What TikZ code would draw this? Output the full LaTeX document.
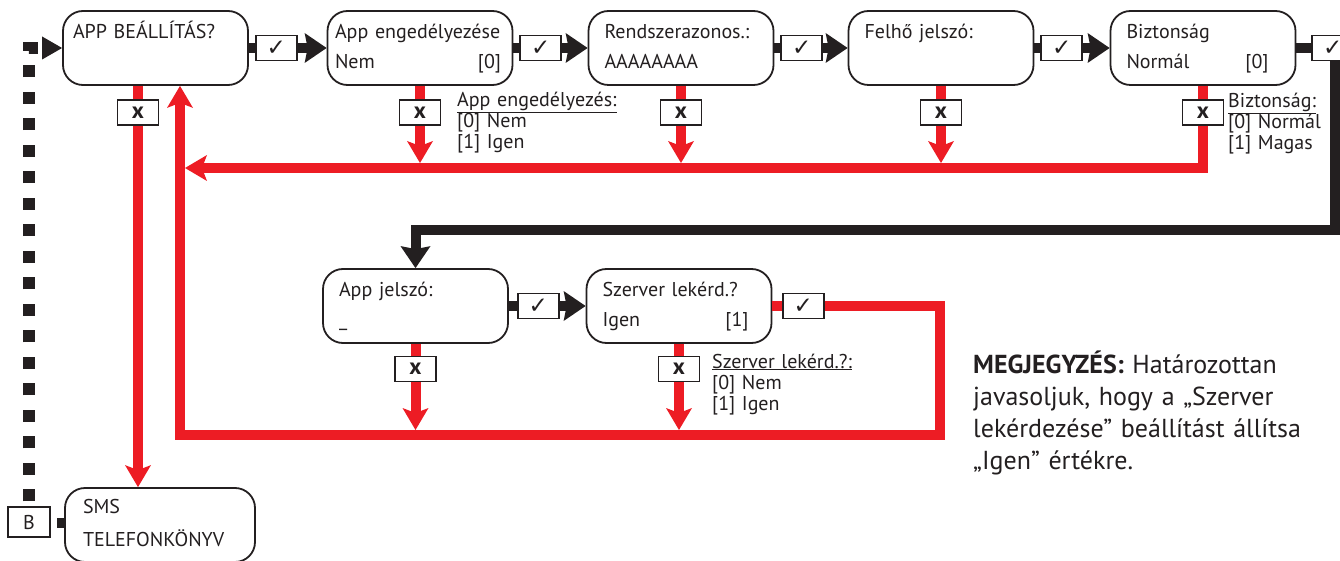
\documentclass[tikz,border=0pt]{standalone}
\usepackage{fontspec}
\setmainfont{PT Sans}
\newfontfamily\symfont{DejaVu Sans}
\usetikzlibrary{arrows.meta}

\definecolor{ink}{HTML}{231F20}
\definecolor{alarm}{HTML}{ED1C24}

\newcommand\ck{{\symfont\fontsize{23}{23}\selectfont ✓}}
\newcommand\cx{{\bfseries\fontsize{23}{23}\selectfont x}}
\newcommand\valrow[3]{\makebox[#1][l]{#2\hfill#3}}

\tikzset{
  stepbox/.style={draw=ink, line width=1.8pt, rounded corners=20pt,
    minimum width=185pt, minimum height=74pt, inner sep=0pt,
    text width=153pt, align=left, text height=16.5pt, text depth=36pt,
    text=ink, font=\fontsize{20}{21}\selectfont},
  markbox/.style={draw=ink, fill=white, line width=1.8pt, inner sep=0pt,
    minimum width=41pt, minimum height=25pt, text=ink},
  okline/.style={draw=ink, line width=10pt},
  okarrow/.style={okline, -{Stealth[length=22pt, width=30pt, inset=3pt, line width=0pt]}},
  noline/.style={draw=alarm, line width=10pt},
  noarrow/.style={noline, -{Stealth[length=22pt, width=26pt, inset=5pt, line width=0pt]}},
  hint/.style={anchor=base west, align=left, inner sep=0pt, text=ink,
    text width=200pt, font=\fontsize{20}{21}\selectfont},
  dotline/.style={draw=ink, line width=12pt, dash pattern=on 12pt off 14.5pt,
    dash phase=21.5pt, -{Triangle[length=20pt, width=23pt, line width=0pt]}},
}

\begin{document}
\hyphenpenalty=10000 \exhyphenpenalty=10000
\begin{tikzpicture}[x=1pt, y=-1pt]
  \useasboundingbox (0,0) rectangle (1340,561);
  \clip (0,0) rectangle (1340,561);

  % first row
  \node[stepbox, text width=165pt] (app) at (155.5,48) {APP BEÁLLÍTÁS?};
  \node[stepbox, text width=170pt] (eng) at (420,48) {App engedélyezése\\[9pt]\valrow{166pt}{Nem}{[0]}};
  \node[stepbox] (rid) at (681,48) {Rendszerazonos.:\\[9pt]AAAAAAAA};
  \node[stepbox] (felho) at (941,48) {Felhő jelszó:};
  \node[stepbox] (bizt) at (1203,48) {Biztonság\\[9pt]\valrow{142pt}{Normál}{[0]}};

  % second row
  \node[stepbox] (pw) at (415.5,306) {App jelszó:\\[9pt]\_};
  \node[stepbox] (srv) at (679,306) {Szerver lekérd.?\\[9pt]\valrow{146pt}{Igen}{[1]}};

  % exit
  \node[stepbox, minimum width=190pt, text width=154pt, text depth=39pt] (sms) at (160,525) {SMS\\[12pt]TELEFONKÖNYV};
  \node[markbox, minimum width=42pt, minimum height=30pt, line width=1.5pt, font=\fontsize{20}{20}\selectfont] (bbox) at (29,522) {B};

  \coordinate (ret) at (180,168);
  \coordinate (loopL) at (180,435);
  \coordinate (loopR) at (940,435);
  \coordinate (bend) at (1335,230);

  % yes path
  \draw[okarrow] (app) -- node[markbox, at start, anchor=west, xshift=6pt] {\ck} (eng);
  \draw[okarrow] (eng) -- node[markbox, at start, anchor=west, xshift=6pt] {\ck} (rid);
  \draw[okarrow] (rid) -- node[markbox, at start, anchor=west, xshift=6pt] {\ck} (felho);
  \draw[okarrow] (felho) -- node[markbox, at start, anchor=west, xshift=6pt] {\ck} (bizt);
  \draw[okarrow] (bizt.east) -| node[markbox, at start, anchor=west, xshift=15pt] {\ck} (bend) -| (pw.north);
  \draw[okarrow] (pw) -- node[markbox, at start, anchor=west, xshift=8pt] {\ck} (srv);

  % no path
  \draw[noarrow] ([xshift=-17.5pt]app.south) -- node[markbox, at start, yshift=-27pt] {\cx} ([xshift=-22pt]sms.north);
  \draw[noarrow, shorten >=5pt] (eng.south) -- node[markbox, at start, yshift=-27pt] {\cx} (eng.south |- ret);
  \draw[noarrow, shorten >=5pt] (rid.south) -- node[markbox, at start, yshift=-27pt] {\cx} (rid.south |- ret);
  \draw[noarrow, shorten >=5pt] (felho.south) -- node[markbox, at start, yshift=-27pt] {\cx} (felho.south |- ret);
  \draw[noarrow] (bizt.south) |- node[markbox, at start, yshift=-27pt] {\cx} ([xshift=5pt]ret);
  \draw[noarrow, shorten >=5pt] (pw.south) -- node[markbox, at start, yshift=-25pt] {\cx} (pw.south |- loopL);
  \draw[noarrow, shorten >=5pt] (srv.south) -- node[markbox, at start, yshift=-25pt] {\cx} (srv.south |- loopL);
  \draw[noarrow] (srv.east) -- node[markbox, at start, anchor=west, xshift=9.5pt] {\ck} (loopR |- srv.east) -- (loopR) -- (loopL) -- (loopL |- app.south);

  % back from B
  \draw[dotline] (bbox.north) |- (app.west);
  \draw[okline] ([yshift=2.5pt]sms.west) -- ++(-7,0);

  % options
  \node[hint] (enghint) at (457,107) {\underline{App engedélyezés:}\\{[0] Nem}\\{[1] Igen}};
  \node[hint, text width=110pt] (bizthint) at (1228,108) {\underline{Biztonság:}\\{[0] Normál}\\{[1] Magas}};
  \node[hint] (srvhint) at (712,368) {\underline{Szerver lekérd.?:}\\{[0] Nem}\\{[1] Igen}};

  \node[hint, text width=360pt, font=\fontsize{26}{32}\selectfont] (note) at (973,373) {\textbf{MEGJEGYZÉS:} Határozottan\\javasoljuk, hogy a „Szerver\\lekérdezése” beállítást állítsa\\„Igen” értékre.};
\end{tikzpicture}
\end{document}
